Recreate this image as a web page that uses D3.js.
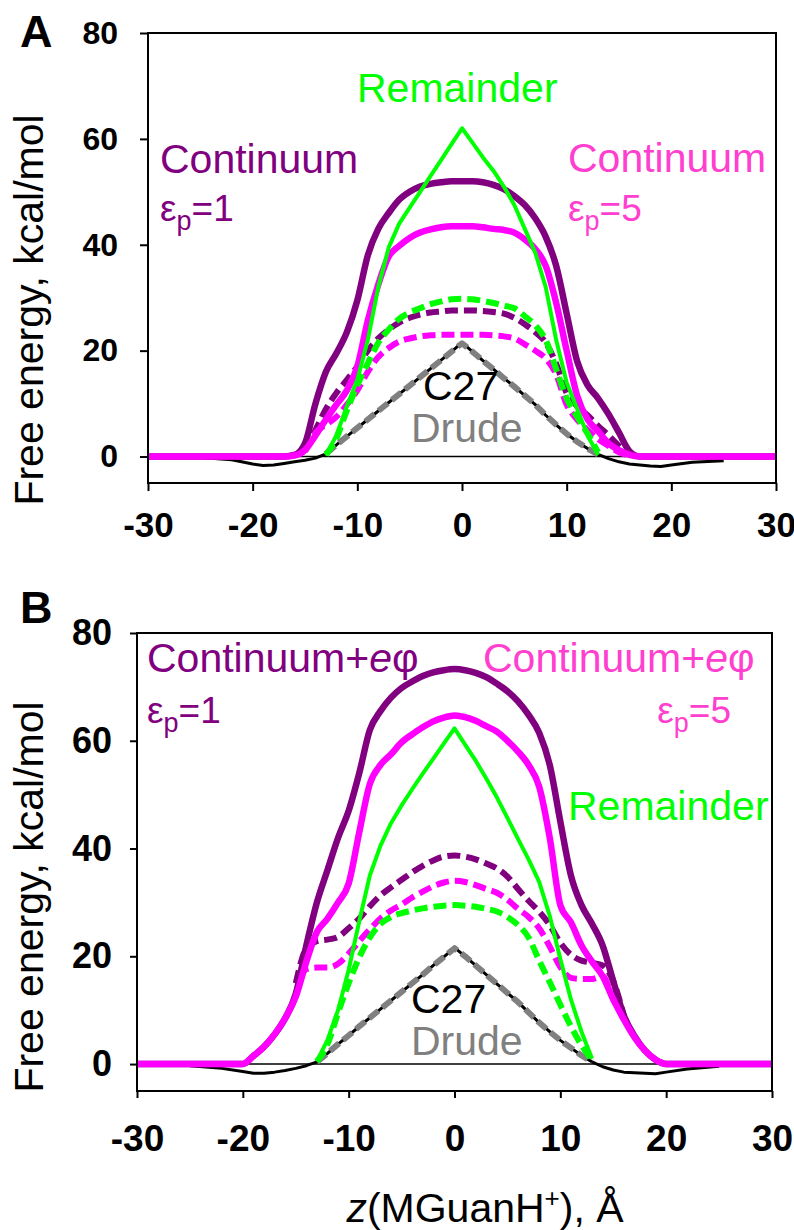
<!DOCTYPE html>
<html>
<head>
<meta charset="utf-8">
<script src="https://cdn.jsdelivr.net/npm/d3@7"></script>
<style>
  body { margin: 0; background: #fff; }
  svg { display: block; }
</style>
</head>
<body>
<script>
// z positions (Angstrom) shared by all curves; null = curve not drawn there
const N = null;
const zGrid = [-30, -25, -22, -20,
  -19, -18, -17, -16, -15, -14, -13, -12, -11,
  -10, -9, -8, -7, -6, -5, -4, -3, -2, -1,
  0,
  1, 2, 3, 4, 5, 6, 7, 8, 9, 10,
  11, 12, 13, 14, 15, 16, 17, 18, 19,
  20, 22, 25, 30];

// ---- panel A ----
const aCont1 = [0, 0, 0, 0,
  0, 0, 0, 0.3, 2.5, 10, 16, 19.5, 23.5,
  29.5, 38, 43, 46, 48.5, 50, 51, 51.5, 51.8, 52,
  52,
  52, 51.8, 51.3, 50.5, 49.2, 47.5, 45, 41.5, 36, 27,
  18, 13.5, 11, 8, 4.5, 1, 0, 0, 0,
  0, 0, 0, 0];
const aCont5 = [0, 0, 0, 0,
  0, 0, 0, 0.2, 1.2, 4, 7, 9.8, 12.5,
  17, 25.7, 32.5, 37.8, 39.8, 41.3, 42.3, 42.9, 43.3, 43.5,
  43.5,
  43.5, 43.3, 43, 42.8, 42.3, 41, 39.2, 36, 29, 20,
  11.5, 7, 4.8, 2.5, 1.2, 0.3, 0, 0, 0,
  0, 0, 0, 0];
const aRem = [N, N, N, N,
  N, N, N, N, N, N, 0.3, 4, 9.5,
  14.5, 22, 32, 39.5, 44, 47, 50, 53, 56, 59,
  62,
  59.3, 56.5, 54, 51, 47.5, 43, 38.5, 32, 22, 14,
  9, 4, 0.3, N, N, N, N, N, N,
  N, N, N, N];
const aCont1d = [N, N, N, N,
  N, N, N, N, 1, 5, 9, 12, 14.5,
  17, 20, 22.3, 24, 25.3, 26.2, 26.8, 27.2, 27.4, 27.6,
  27.6,
  27.6, 27.5, 27.3, 27, 26.2, 25, 23.5, 21.5, 17.5, 12,
  9.5, 7.8, 5.8, 4, 2, 0.3, N, N, N,
  N, N, N, N];
const aCont5d = [N, N, N, N,
  N, N, N, N, 1, 4.5, 6, 7.5, 9.8,
  12.5, 16, 18.8, 20.5, 21.7, 22.3, 22.7, 22.9, 23, 23,
  23,
  23, 23, 22.9, 22.7, 22.3, 21.2, 20, 18.5, 15.5, 9.8,
  7, 5, 3.3, 2, 0.8, 0.2, N, N, N,
  N, N, N, N];
const aRemd = [N, N, N, N,
  N, N, N, N, N, N, 0.3, 3.5, 8.7,
  13.5, 17.6, 21.5, 24, 26, 27.2, 28, 28.8, 29.3, 29.7,
  29.8,
  29.7, 29.4, 29, 28.5, 28, 26.5, 24.8, 22, 16.5, 11,
  7.5, 4.3, 0.8, N, N, N, N, N, N,
  N, N, N, N];
const aC27 = [N, -0.2, -0.6, -1.4,
  -1.7, -1.6, -1.3, -1, -0.7, -0.3, 0.5, 2.2, 3.8,
  5.4, 7, 8.6, 10.2, 11.8, 13.4, 15, 16.6, 18.2, 19.8,
  21.5,
  19.8, 18.1, 16.5, 14.8, 13.2, 11.5, 9.8, 7.8, 6, 4.3,
  2.8, 1.5, 0.4, -0.4, -1, -1.4, -1.6, -1.8, -1.9,
  -1.6, -1.1, -0.8, N];
const aDrude = [N, N, N, N,
  N, N, N, N, N, N, 0.5, 2.2, 3.8,
  5.4, 7, 8.6, 10.2, 11.8, 13.4, 15, 16.6, 18.2, 19.8,
  21.4,
  19.8, 18.1, 16.5, 14.8, 13.2, 11.5, 9.8, 7.8, 6, 4.3,
  2.8, 1.5, 0.4, N, N, N, N, N, N,
  N, N, N, N];

// ---- panel B ----
const bCont1 = [0, 0, 0, 0,
  1.5, 3.2, 5.5, 8.5, 13, 22, 30, 36, 42,
  47, 54, 62, 65.5, 68, 69.8, 71, 72, 72.7, 73.1,
  73.3,
  73.1, 72.6, 71.8, 70.6, 69.2, 67.3, 64.8, 61.5, 55.5, 45,
  35, 29.5, 26, 22, 15.4, 9, 5.2, 2.5, 0.8,
  0, 0, 0, 0];
const bCont5 = [0, 0, 0, 0,
  1.5, 3.2, 5.5, 8.5, 12.5, 19, 24.5, 27, 30,
  33.5, 43, 52, 55.5, 57.5, 59.7, 61.2, 62.5, 63.6, 64.3,
  64.7,
  64.4, 63.7, 62.7, 61.7, 60, 58, 55.5, 51.5, 42, 29.5,
  26.3, 22, 19, 16.3, 12, 8.3, 5, 2.5, 0.8,
  0, 0, 0, 0];
const bRem = [N, N, N, N,
  N, N, N, N, N, N, 0.5, 4.5, 10,
  17.5, 26.5, 35, 40.5, 44.7, 48, 51, 53.9, 56.7, 59.5,
  62.3,
  59.3, 56.3, 53, 49.5, 45.7, 41.8, 38, 33.8, 27.5, 19.5,
  12, 6, 1, N, N, N, N, N, N,
  N, N, N, N];
const bCont1d = [N, N, N, N,
  N, N, N, N, 15, 21.5, 22.8, 23.1, 23.6,
  25.2, 27, 29.3, 31.3, 32.8, 34.2, 35.6, 36.8, 37.8, 38.5,
  38.7,
  38.5, 38, 37.2, 36.3, 34.8, 32.5, 30.3, 28.3, 25.8, 22.5,
  20.3, 19.2, 18.8, 18.3, 15.4, 9, N, N, N,
  N, N, N, N];
const bCont5d = [N, N, N, N,
  N, N, N, N, 12.5, 17.6, 17.9, 17.9, 18.6,
  20.5, 22.8, 25, 27, 28.5, 29.6, 30.9, 32, 33, 33.7,
  34,
  33.8, 33.2, 32.5, 31.8, 30.5, 28.8, 27.3, 25.2, 21.8, 18,
  16, 15.8, 15.8, 16.3, 12, 8.3, N, N, N,
  N, N, N, N];
const bRemd = [N, N, N, N,
  N, N, N, N, N, N, 0.5, 3.7, 9.5,
  15, 19.8, 23.5, 26, 27.3, 28, 28.5, 28.9, 29.2, 29.4,
  29.5,
  29.4, 29.2, 28.8, 28.3, 27.3, 25.8, 23.5, 19.2, 15.2, 11,
  7, 3.5, 0.7, N, N, N, N, N, N,
  N, N, N, N];
const bC27 = [N, -0.3, -0.8, -1.4,
  -1.7, -1.7, -1.5, -1.2, -0.8, -0.3, 0.4, 2, 3.7,
  5.3, 7, 8.6, 10.2, 11.8, 13.4, 15, 16.6, 18.3, 19.9,
  21.6,
  20, 18.3, 16.6, 14.9, 13.2, 11.5, 9.6, 7.7, 6, 4.4,
  3, 1.6, 0.4, -0.5, -1.1, -1.5, -1.6, -1.7, -1.8,
  -1.5, -0.9, -0.4, N];
const bDrude = [N, N, N, N,
  N, N, N, N, N, N, 0.4, 2, 3.7,
  5.3, 7, 8.6, 10.2, 11.8, 13.4, 15, 16.6, 18.3, 19.9,
  21.5,
  20, 18.3, 16.6, 14.9, 13.2, 11.5, 9.6, 7.7, 6, 4.4,
  3, 1.6, 0.4, N, N, N, N, N, N,
  N, N, N, N];

const yTicks = [0, 20, 40, 60, 80];
const xTicks = [-30, -20, -10, 0, 10, 20, 30];

const FONT = '"Liberation Sans", Arial, sans-serif';
const PURPLE = '#800080', MAGENTA = '#ff00ff', GREEN = '#00ff00', GRAY = '#808080';
const MAGENTA_TEXT = '#ff3fcf';

const svg = d3.select('body').append('svg')
  .attr('width', 794)
  .attr('height', 1230)
  .style('font-family', FONT);

function seriesList(c27, drude, c1d, c5d, remd, c1, c5, rem) {
  // drawing order: bottom to top
  return [
    { v: c27, color: '#000', w: 3, curve: d3.curveLinear },
    { v: drude, color: GRAY, w: 6, dash: '12,5', curve: d3.curveLinear },
    { v: c1d, color: PURPLE, w: 6, dash: '13,6' },
    { v: c5d, color: MAGENTA, w: 6, dash: '13,6' },
    { v: remd, color: GREEN, w: 6, dash: '13,6' },
    { v: c1, color: PURPLE, w: 6.5 },
    { v: c5, color: MAGENTA, w: 6.5 },
    { v: rem, color: GREEN, w: 4, curve: d3.curveLinear }
  ];
}

function drawPanel(p) {
  var x = d3.scaleLinear().domain([-30, 30]).range([p.left, p.right]);
  var y = d3.scaleLinear().domain([-5, 80]).range([p.bottom, p.top]);
  var g = svg.append('g');

  g.append('line')
    .attr('x1', p.left).attr('x2', p.right)
    .attr('y1', y(0)).attr('y2', y(0))
    .attr('stroke', '#000').attr('stroke-width', 1.5);

  p.series.forEach(function(s) {
    var line = d3.line()
      .defined(function(d) { return d[1] != null; })
      .x(function(d) { return x(d[0]); })
      .y(function(d) { return y(d[1]); })
      .curve(s.curve || d3.curveMonotoneX);
    g.append('path')
      .datum(zGrid.map(function(z, i) { return [z, s.v[i]]; }))
      .attr('d', line)
      .attr('fill', 'none')
      .attr('stroke', s.color)
      .attr('stroke-width', s.w)
      .attr('stroke-linejoin', 'round')
      .attr('stroke-dasharray', s.dash || null);
  });

  g.append('rect')
    .attr('x', p.left).attr('y', p.top)
    .attr('width', p.right - p.left).attr('height', p.bottom - p.top)
    .attr('fill', 'none').attr('stroke', '#000').attr('stroke-width', 2);

  var yAxis = d3.axisLeft(y).tickValues(yTicks).tickSize(p.tick)
    .tickPadding(p.yPad).tickFormat(function(d) { return String(d); });
  var xAxis = d3.axisBottom(x).tickValues(xTicks).tickSize(p.tick)
    .tickPadding(p.xPad).tickFormat(function(d) { return String(d); });

  g.append('g').attr('transform', 'translate(' + p.left + ',0)').call(yAxis)
    .attr('font-family', FONT).attr('font-size', p.yFont).attr('font-weight', 'bold')
    .call(function(a) {
      a.select('.domain').remove();
      a.selectAll('line').attr('stroke-width', 2);
    });
  g.append('g').attr('transform', 'translate(0,' + p.bottom + ')').call(xAxis)
    .attr('font-family', FONT).attr('font-size', p.xFont).attr('font-weight', 'bold')
    .call(function(a) {
      a.select('.domain').remove();
      a.selectAll('line').attr('stroke-width', 2);
    });

  // y title
  g.append('text')
    .attr('transform', 'translate(43,' + p.titleY + ') rotate(-90)')
    .attr('text-anchor', 'middle')
    .attr('font-size', 41)
    .text('Free energy, kcal/mol');

  // panel letter
  g.append('text')
    .attr('x', 20).attr('y', p.letterY)
    .attr('font-size', 45).attr('font-weight', 'bold')
    .text(p.letter);

  p.labels.forEach(function(l) {
    var t = g.append('text')
      .attr('x', l.x).attr('y', l.y)
      .attr('fill', l.color)
      .attr('font-size', 41)
      .attr('text-anchor', l.anchor || 'start');
    if (l.eps) {
      t.attr('font-size', 37);
      t.append('tspan').text('\u03b5');
      t.append('tspan').attr('font-size', 27).attr('dy', 9).text('p');
      t.append('tspan').attr('dy', -9).text('=' + l.eps);
    } else if (l.ephi) {
      t.append('tspan').text('Continuum+');
      t.append('tspan').attr('font-style', 'italic').text('e');
      t.append('tspan').text('\u03c6');
    } else {
      t.text(l.text);
    }
  });
}

drawPanel({
  letter: 'A', letterY: 47,
  left: 148, right: 776, top: 33, bottom: 483,
  tick: 8, yPad: 22, xPad: 21, yFont: 32, xFont: 35, titleY: 310,
  series: seriesList(aC27, aDrude, aCont1d, aCont5d, aRemd, aCont1, aCont5, aRem),
  labels: [
    { x: 357, y: 102, color: GREEN, text: 'Remainder' },
    { x: 160, y: 173, color: PURPLE, text: 'Continuum' },
    { x: 160, y: 221, color: PURPLE, eps: '1' },
    { x: 568, y: 172, color: MAGENTA_TEXT, text: 'Continuum' },
    { x: 568, y: 221, color: MAGENTA_TEXT, eps: '5' },
    { x: 423, y: 400, color: '#000', text: 'C27' },
    { x: 411, y: 442, color: GRAY, text: 'Drude' }
  ]
});

drawPanel({
  letter: 'B', letterY: 623,
  left: 137, right: 772, top: 633, bottom: 1091,
  tick: 7, yPad: 18, xPad: 27, yFont: 36, xFont: 37, titleY: 897,
  series: seriesList(bC27, bDrude, bCont1d, bCont5d, bRemd, bCont1, bCont5, bRem),
  labels: [
    { x: 147, y: 672, color: PURPLE, ephi: true },
    { x: 147, y: 723, color: PURPLE, eps: '1' },
    { x: 483, y: 672, color: MAGENTA_TEXT, ephi: true },
    { x: 731, y: 723, color: MAGENTA_TEXT, eps: '5', anchor: 'end' },
    { x: 568, y: 820, color: GREEN, text: 'Remainder' },
    { x: 411, y: 1013, color: '#000', text: 'C27' },
    { x: 411, y: 1055, color: GRAY, text: 'Drude' }
  ]
});

// x axis title
var xt = svg.append('text')
  .attr('x', 485).attr('y', 1222)
  .attr('text-anchor', 'middle')
  .attr('font-size', 41);
xt.append('tspan').attr('font-style', 'italic').text('z');
xt.append('tspan').text('(MGuanH');
xt.append('tspan').attr('font-size', 26).attr('dy', -15).text('+');
xt.append('tspan').attr('dy', 15).text('), \u00c5');
</script>
</body>
</html>
